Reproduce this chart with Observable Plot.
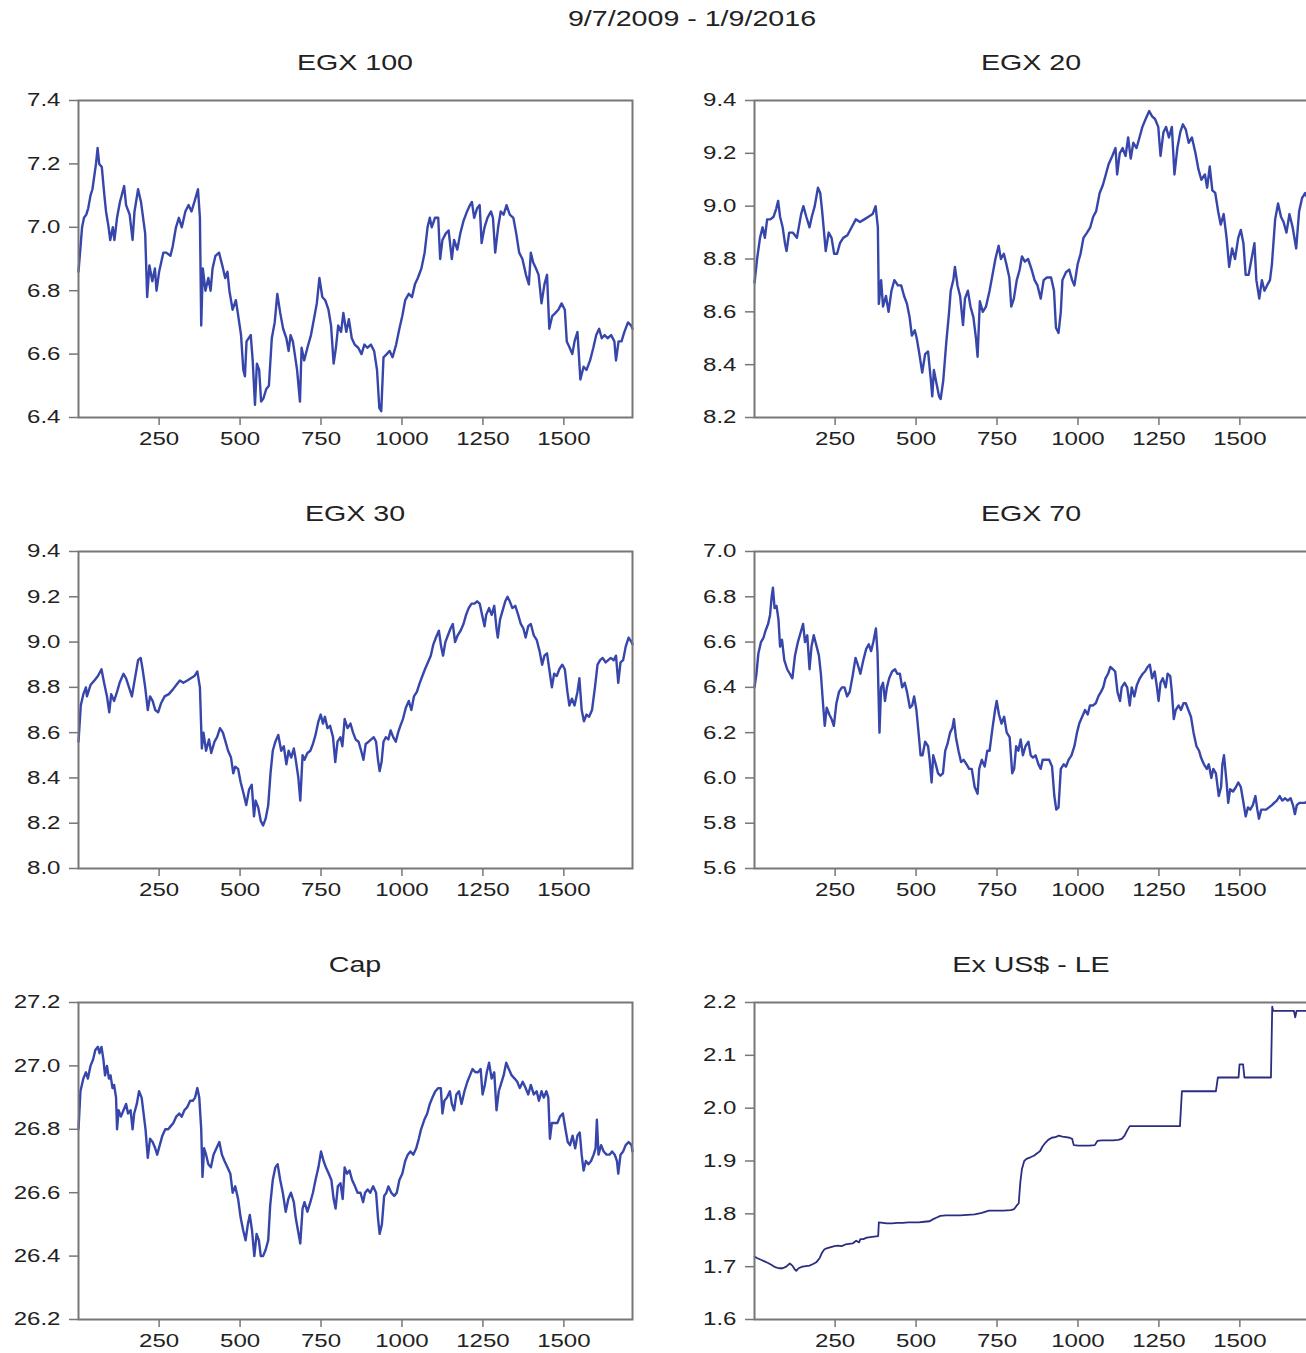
<!DOCTYPE html>
<html><head><meta charset="utf-8">
<script src="https://cdn.jsdelivr.net/npm/d3@7"></script>
<script src="https://cdn.jsdelivr.net/npm/@observablehq/plot@0.6"></script>
<style>
html,body{margin:0;padding:0;background:#fff;overflow:hidden;width:1306px;height:1353px}
#root{position:relative;width:1306px;height:1353px;overflow:hidden;background:#fff}
.t{position:absolute;font-family:"Liberation Sans",Arial,sans-serif;color:#222;white-space:nowrap;line-height:1;transform:translate(-50%,-50%) scaleX(1.3)}
.p{position:absolute;width:642px;height:367px}
.p svg{max-width:none !important;width:642px;height:367px}
</style></head><body><div id="root"></div>
<script>
const mainTitle = "9/7/2009 - 1/9/2016";
const panelTitles = ["EGX 100", "EGX 20", "EGX 30", "EGX 70", "Cap", "Ex US$ - LE"];
const xTicks = [250, 500, 750, 1000, 1250, 1500];
const xDomain = [1, 1712];

const ticksEGX100 = [6.4, 6.6, 6.8, 7.0, 7.2, 7.4];
const ticksEGX20 = [8.2, 8.4, 8.6, 8.8, 9.0, 9.2, 9.4];
const ticksEGX30 = [8.0, 8.2, 8.4, 8.6, 8.8, 9.0, 9.2, 9.4];
const ticksEGX70 = [5.6, 5.8, 6.0, 6.2, 6.4, 6.6, 6.8, 7.0];
const ticksCap = [26.2, 26.4, 26.6, 26.8, 27.0, 27.2];
const ticksEx = [1.6, 1.7, 1.8, 1.9, 2.0, 2.1, 2.2];

const egx100 = [[1,6.86],[12,7.00],[18,7.03],[25,7.04],[31,7.06],[38,7.10],[44,7.12],[55,7.20],[60,7.25],[65,7.20],[73,7.19],[81,7.10],[86,7.05],[94,7.00],[99,6.96],[107,7.00],[112,6.96],[120,7.03],[129,7.08],[142,7.13],[148,7.07],[159,7.04],[168,6.96],[174,7.05],[185,7.12],[194,7.08],[207,6.98],[213,6.78],[220,6.88],[229,6.83],[237,6.87],[242,6.80],[250,6.86],[263,6.92],[272,6.92],[285,6.91],[292,6.94],[302,7.00],[311,7.03],[320,7.00],[331,7.05],[341,7.07],[350,7.05],[359,7.08],[370,7.12],[376,7.03],[380,6.69],[385,6.87],[393,6.80],[402,6.84],[409,6.80],[415,6.87],[424,6.91],[435,6.92],[445,6.88],[454,6.84],[461,6.86],[467,6.80],[477,6.74],[487,6.77],[493,6.73],[503,6.66],[510,6.55],[515,6.53],[520,6.64],[533,6.66],[539,6.58],[546,6.44],[552,6.57],[559,6.55],[565,6.45],[572,6.46],[581,6.49],[589,6.50],[598,6.65],[607,6.70],[615,6.79],[624,6.73],[633,6.68],[643,6.65],[650,6.61],[656,6.66],[663,6.64],[669,6.60],[676,6.55],[685,6.45],[690,6.62],[698,6.58],[708,6.62],[719,6.66],[728,6.71],[737,6.76],[745,6.84],[754,6.78],[763,6.77],[773,6.74],[781,6.69],[789,6.57],[796,6.62],[803,6.69],[812,6.67],[819,6.73],[828,6.67],[836,6.71],[845,6.65],[854,6.63],[865,6.62],[875,6.60],[884,6.63],[893,6.62],[904,6.63],[914,6.61],[923,6.55],[930,6.43],[936,6.42],[943,6.59],[953,6.60],[962,6.61],[971,6.59],[982,6.63],[992,6.68],[1001,6.72],[1010,6.77],[1021,6.79],[1031,6.78],[1040,6.82],[1049,6.84],[1060,6.87],[1070,6.92],[1079,7.00],[1086,7.03],[1092,7.00],[1102,7.03],[1112,7.03],[1118,6.90],[1125,6.96],[1135,6.98],[1144,6.99],[1154,6.90],[1161,6.96],[1171,6.93],[1180,6.98],[1190,7.02],[1201,7.05],[1210,7.07],[1216,7.08],[1223,7.03],[1232,7.06],[1240,7.07],[1246,6.95],[1255,7.00],[1264,7.03],[1275,7.05],[1281,7.03],[1288,6.92],[1297,7.00],[1305,7.05],[1314,7.04],[1323,7.07],[1333,7.04],[1344,7.03],[1353,6.98],[1362,6.92],[1372,6.90],[1383,6.85],[1392,6.82],[1398,6.92],[1405,6.89],[1414,6.87],[1422,6.85],[1431,6.76],[1440,6.82],[1448,6.85],[1455,6.68],[1464,6.72],[1474,6.73],[1483,6.74],[1493,6.76],[1503,6.74],[1509,6.64],[1518,6.62],[1526,6.60],[1533,6.64],[1542,6.67],[1551,6.52],[1561,6.56],[1570,6.55],[1581,6.58],[1591,6.62],[1600,6.66],[1609,6.68],[1617,6.65],[1626,6.66],[1635,6.65],[1646,6.66],[1656,6.64],[1661,6.58],[1669,6.64],[1678,6.64],[1687,6.67],[1698,6.70],[1708,6.69],[1712,6.68]];

const egx20 = [[1,8.71],[9,8.80],[18,8.88],[26,8.92],[33,8.88],[40,8.95],[50,8.95],[60,8.96],[68,8.99],[74,9.02],[80,8.96],[88,8.92],[95,8.86],[100,8.83],[108,8.90],[119,8.90],[132,8.88],[145,8.97],[152,9.00],[161,8.96],[171,8.92],[178,8.96],[187,9.00],[197,9.07],[204,9.05],[210,8.98],[221,8.83],[230,8.90],[239,8.88],[247,8.82],[256,8.82],[265,8.86],[275,8.88],[288,8.89],[301,8.92],[314,8.95],[327,8.94],[340,8.95],[353,8.96],[366,8.97],[375,9.00],[382,8.92],[385,8.63],[392,8.72],[398,8.62],[407,8.66],[415,8.60],[424,8.68],[433,8.72],[444,8.70],[454,8.70],[463,8.66],[472,8.63],[480,8.58],[487,8.51],[496,8.53],[502,8.50],[509,8.45],[519,8.37],[528,8.44],[537,8.45],[545,8.35],[550,8.28],[555,8.38],[563,8.33],[571,8.28],[576,8.27],[584,8.34],[593,8.48],[602,8.60],[607,8.68],[615,8.72],[620,8.77],[628,8.70],[636,8.66],[645,8.55],[651,8.65],[660,8.68],[668,8.62],[677,8.58],[685,8.50],[690,8.43],[697,8.64],[706,8.60],[716,8.62],[727,8.68],[736,8.74],[745,8.80],[755,8.85],[762,8.80],[771,8.82],[779,8.78],[788,8.73],[794,8.62],[802,8.65],[811,8.72],[820,8.76],[827,8.81],[836,8.79],[846,8.80],[857,8.76],[866,8.72],[875,8.70],[885,8.65],[894,8.72],[904,8.73],[917,8.73],[926,8.68],[932,8.54],[940,8.52],[947,8.60],[952,8.72],[963,8.75],[973,8.76],[982,8.72],[989,8.70],[999,8.78],[1008,8.82],[1017,8.88],[1028,8.90],[1038,8.92],[1047,8.96],[1056,8.98],[1067,9.05],[1077,9.08],[1086,9.12],[1095,9.16],[1106,9.19],[1116,9.22],[1121,9.12],[1129,9.20],[1138,9.22],[1147,9.19],[1155,9.26],[1163,9.18],[1171,9.24],[1181,9.22],[1190,9.26],[1199,9.30],[1209,9.33],[1220,9.36],[1229,9.34],[1238,9.33],[1248,9.30],[1255,9.19],[1264,9.28],[1272,9.30],[1281,9.26],[1290,9.30],[1298,9.12],[1307,9.22],[1316,9.28],[1324,9.31],[1333,9.29],[1342,9.24],[1352,9.26],[1363,9.20],[1372,9.14],[1381,9.10],[1392,9.12],[1399,9.07],[1407,9.15],[1415,9.06],[1424,9.05],[1433,8.98],[1441,8.93],[1450,8.97],[1459,8.88],[1467,8.77],[1476,8.84],[1485,8.80],[1495,8.88],[1503,8.91],[1511,8.86],[1518,8.74],[1527,8.74],[1536,8.80],[1545,8.86],[1551,8.72],[1560,8.65],[1568,8.72],[1576,8.68],[1584,8.70],[1593,8.72],[1599,8.78],[1609,8.95],[1618,9.01],[1627,8.96],[1635,8.94],[1644,8.90],[1653,8.97],[1663,8.92],[1674,8.84],[1683,8.98],[1692,9.03],[1702,9.05],[1712,9.02]];

const egx30 = [[1,8.56],[8,8.72],[16,8.77],[24,8.80],[27,8.76],[38,8.81],[50,8.83],[61,8.85],[72,8.88],[80,8.82],[89,8.76],[96,8.69],[102,8.77],[111,8.74],[120,8.78],[128,8.82],[140,8.86],[148,8.84],[157,8.80],[166,8.76],[173,8.82],[185,8.92],[193,8.93],[199,8.88],[207,8.80],[215,8.70],[222,8.76],[230,8.74],[238,8.70],[247,8.69],[256,8.73],[267,8.76],[280,8.77],[292,8.79],[303,8.81],[314,8.83],[325,8.82],[337,8.83],[348,8.84],[359,8.85],[368,8.87],[376,8.80],[382,8.53],[387,8.60],[395,8.52],[404,8.57],[411,8.51],[421,8.56],[429,8.58],[438,8.62],[447,8.60],[455,8.56],[463,8.52],[472,8.49],[479,8.42],[485,8.45],[494,8.44],[502,8.38],[511,8.33],[519,8.28],[528,8.35],[536,8.37],[543,8.23],[548,8.30],[556,8.27],[564,8.21],[571,8.19],[579,8.22],[587,8.28],[594,8.42],[601,8.52],[609,8.56],[618,8.59],[627,8.52],[635,8.54],[643,8.46],[650,8.52],[658,8.49],[666,8.53],[672,8.48],[680,8.40],[686,8.30],[693,8.50],[699,8.48],[708,8.51],[717,8.52],[725,8.55],[733,8.59],[742,8.65],[749,8.68],[756,8.64],[762,8.67],[770,8.62],[778,8.63],[787,8.58],[794,8.47],[801,8.56],[810,8.58],[816,8.54],[823,8.66],[832,8.62],[841,8.64],[849,8.60],[857,8.57],[866,8.56],[874,8.52],[881,8.48],[888,8.55],[897,8.56],[905,8.57],[913,8.58],[920,8.56],[926,8.48],[931,8.43],[937,8.47],[943,8.56],[950,8.58],[958,8.57],[965,8.61],[973,8.58],[981,8.56],[988,8.60],[995,8.63],[1003,8.66],[1012,8.71],[1021,8.74],[1029,8.70],[1037,8.76],[1046,8.78],[1055,8.82],[1063,8.85],[1071,8.88],[1080,8.91],[1089,8.94],[1097,8.99],[1105,9.02],[1114,9.05],[1121,8.98],[1127,8.94],[1134,9.00],[1142,9.03],[1150,9.06],[1157,9.08],[1164,9.00],[1172,9.03],[1181,9.05],[1190,9.08],[1198,9.12],[1206,9.15],[1215,9.17],[1224,9.17],[1232,9.18],[1240,9.17],[1249,9.11],[1255,9.07],[1260,9.12],[1269,9.15],[1277,9.12],[1285,9.16],[1292,9.06],[1296,9.02],[1303,9.10],[1311,9.14],[1319,9.18],[1326,9.20],[1333,9.18],[1341,9.15],[1350,9.16],[1359,9.12],[1367,9.08],[1375,9.06],[1382,9.02],[1390,9.07],[1398,9.08],[1407,9.03],[1416,9.01],[1425,8.96],[1433,8.90],[1440,8.94],[1448,8.95],[1456,8.87],[1463,8.80],[1470,8.86],[1478,8.85],[1486,8.88],[1495,8.90],[1503,8.88],[1511,8.78],[1517,8.72],[1525,8.75],[1533,8.72],[1542,8.78],[1548,8.84],[1555,8.70],[1562,8.65],[1570,8.68],[1578,8.67],[1587,8.70],[1596,8.80],[1604,8.90],[1612,8.92],[1620,8.93],[1629,8.91],[1637,8.92],[1645,8.93],[1654,8.92],[1661,8.94],[1668,8.82],[1675,8.91],[1683,8.92],[1691,8.98],[1700,9.02],[1709,9.00],[1712,8.99]];

const egx70 = [[1,6.40],[7,6.46],[13,6.55],[21,6.60],[29,6.62],[35,6.65],[43,6.68],[49,6.72],[54,6.80],[58,6.84],[63,6.75],[69,6.76],[75,6.70],[80,6.58],[86,6.61],[93,6.52],[102,6.48],[110,6.46],[118,6.44],[126,6.54],[135,6.60],[143,6.64],[151,6.68],[157,6.60],[164,6.63],[171,6.48],[177,6.58],[184,6.63],[193,6.58],[200,6.54],[206,6.46],[213,6.32],[218,6.23],[224,6.31],[232,6.28],[239,6.26],[246,6.23],[254,6.33],[262,6.38],[271,6.40],[279,6.40],[287,6.36],[295,6.38],[304,6.45],[313,6.53],[320,6.50],[328,6.46],[337,6.52],[346,6.57],[354,6.59],[361,6.56],[368,6.60],[376,6.66],[381,6.55],[387,6.20],[392,6.40],[398,6.42],[404,6.34],[410,6.40],[417,6.44],[426,6.47],[435,6.48],[442,6.46],[450,6.46],[457,6.40],[465,6.42],[472,6.38],[481,6.31],[488,6.32],[494,6.36],[501,6.30],[509,6.18],[514,6.10],[520,6.10],[528,6.16],[537,6.14],[542,6.08],[548,5.98],[553,6.10],[559,6.07],[568,6.02],[575,6.01],[583,6.02],[590,6.12],[597,6.15],[605,6.20],[612,6.22],[617,6.26],[623,6.18],[631,6.12],[639,6.07],[647,6.08],[656,6.06],[664,6.04],[672,6.04],[681,5.96],[690,5.93],[695,6.04],[703,6.08],[712,6.05],[720,6.12],[727,6.12],[736,6.22],[744,6.30],[749,6.34],[756,6.28],[764,6.24],[772,6.27],[780,6.20],[789,6.18],[797,6.02],[803,6.04],[809,6.14],[816,6.12],[823,6.17],[830,6.10],[838,6.14],[847,6.16],[854,6.10],[861,6.09],[869,6.10],[878,6.06],[885,6.04],[891,6.08],[900,6.08],[911,6.08],[920,6.05],[927,5.92],[933,5.86],[940,5.87],[947,6.04],[956,6.06],[963,6.05],[971,6.08],[980,6.10],[989,6.14],[997,6.20],[1004,6.24],[1013,6.27],[1022,6.30],[1030,6.28],[1037,6.32],[1046,6.32],[1055,6.33],[1063,6.36],[1071,6.38],[1078,6.40],[1085,6.44],[1093,6.46],[1100,6.49],[1108,6.48],[1115,6.47],[1122,6.38],[1130,6.34],[1135,6.40],[1144,6.42],[1152,6.40],[1160,6.32],[1166,6.40],[1174,6.36],[1182,6.41],[1191,6.44],[1200,6.46],[1207,6.47],[1215,6.49],[1222,6.50],[1229,6.44],[1237,6.47],[1244,6.40],[1249,6.34],[1255,6.42],[1262,6.44],[1271,6.40],[1277,6.46],[1285,6.45],[1290,6.38],[1296,6.26],[1302,6.30],[1311,6.32],[1318,6.30],[1326,6.33],[1333,6.33],[1341,6.30],[1349,6.27],[1357,6.20],[1366,6.14],[1374,6.12],[1380,6.09],[1389,6.06],[1398,6.04],[1404,6.06],[1412,6.00],[1418,6.04],[1426,6.02],[1435,5.92],[1442,5.96],[1446,6.06],[1451,6.10],[1459,5.98],[1464,5.89],[1470,5.95],[1479,5.94],[1488,5.96],[1495,5.98],[1503,5.96],[1510,5.90],[1518,5.83],[1525,5.87],[1532,5.86],[1540,5.88],[1548,5.92],[1554,5.86],[1559,5.82],[1566,5.86],[1573,5.86],[1581,5.86],[1590,5.87],[1599,5.88],[1606,5.89],[1614,5.90],[1623,5.92],[1631,5.90],[1640,5.91],[1648,5.90],[1657,5.91],[1664,5.88],[1670,5.84],[1676,5.88],[1684,5.89],[1692,5.89],[1701,5.89],[1712,5.90]];

const cap = [[1,26.80],[7,26.92],[16,26.96],[24,26.98],[30,26.96],[38,27.00],[46,27.02],[53,27.05],[61,27.06],[66,27.04],[72,27.06],[78,27.02],[83,26.97],[89,27.00],[95,26.96],[100,26.97],[106,26.93],[111,26.94],[117,26.90],[120,26.80],[125,26.86],[132,26.84],[140,26.86],[148,26.88],[154,26.85],[162,26.86],[168,26.80],[173,26.85],[181,26.88],[188,26.92],[196,26.90],[202,26.85],[208,26.80],[215,26.71],[222,26.77],[230,26.76],[238,26.74],[244,26.72],[252,26.75],[260,26.78],[269,26.80],[278,26.80],[286,26.81],[294,26.82],[303,26.84],[312,26.85],[320,26.84],[328,26.86],[337,26.87],[346,26.89],[354,26.89],[361,26.90],[368,26.93],[374,26.90],[380,26.80],[384,26.65],[389,26.74],[395,26.72],[402,26.69],[410,26.68],[418,26.72],[427,26.74],[436,26.76],[444,26.72],[452,26.70],[461,26.68],[470,26.66],[477,26.60],[485,26.62],[494,26.58],[502,26.52],[510,26.48],[517,26.45],[524,26.50],[530,26.53],[537,26.48],[544,26.40],[551,26.47],[558,26.45],[564,26.40],[571,26.40],[579,26.42],[587,26.45],[593,26.56],[601,26.64],[609,26.68],[616,26.69],[624,26.64],[632,26.60],[641,26.54],[649,26.58],[657,26.60],[666,26.57],[672,26.52],[679,26.48],[686,26.44],[693,26.55],[699,26.57],[708,26.54],[717,26.57],[725,26.60],[733,26.64],[742,26.68],[750,26.73],[758,26.70],[765,26.68],[774,26.66],[782,26.64],[789,26.58],[795,26.55],[802,26.62],[810,26.63],[817,26.58],[823,26.68],[830,26.66],[838,26.67],[846,26.64],[855,26.62],[863,26.60],[872,26.60],[880,26.57],[886,26.60],[894,26.61],[902,26.60],[911,26.62],[920,26.60],[926,26.52],[931,26.47],[938,26.50],[945,26.59],[952,26.60],[958,26.62],[967,26.60],[976,26.59],[984,26.60],[992,26.64],[1001,26.66],[1010,26.70],[1018,26.72],[1026,26.73],[1035,26.72],[1044,26.74],[1052,26.77],[1059,26.80],[1069,26.83],[1078,26.85],[1086,26.88],[1094,26.90],[1103,26.92],[1112,26.93],[1120,26.93],[1125,26.85],[1131,26.89],[1139,26.90],[1148,26.92],[1154,26.88],[1161,26.86],[1168,26.91],[1176,26.92],[1184,26.88],[1193,26.92],[1202,26.95],[1210,26.97],[1218,26.99],[1227,26.98],[1235,26.98],[1243,26.99],[1249,26.91],[1256,26.94],[1262,26.98],[1269,27.01],[1277,26.96],[1285,26.98],[1292,26.86],[1299,26.92],[1305,26.94],[1314,26.97],[1322,27.01],[1330,26.99],[1339,26.97],[1348,26.96],[1356,26.95],[1364,26.93],[1373,26.95],[1382,26.93],[1390,26.91],[1398,26.94],[1407,26.91],[1416,26.92],[1423,26.89],[1431,26.92],[1438,26.90],[1446,26.92],[1452,26.90],[1457,26.77],[1463,26.82],[1472,26.82],[1480,26.82],[1488,26.84],[1497,26.85],[1505,26.80],[1512,26.76],[1519,26.75],[1527,26.78],[1535,26.74],[1542,26.78],[1549,26.79],[1555,26.72],[1561,26.67],[1568,26.70],[1576,26.69],[1584,26.70],[1592,26.72],[1598,26.74],[1602,26.83],[1607,26.72],[1615,26.75],[1623,26.73],[1632,26.72],[1641,26.72],[1649,26.73],[1657,26.72],[1664,26.70],[1668,26.66],[1675,26.72],[1683,26.73],[1691,26.75],[1700,26.76],[1709,26.75],[1712,26.73]];

const exUsdLe = [[1,1.719],[10,1.716],[21,1.713],[32,1.710],[43,1.707],[54,1.703],[65,1.699],[76,1.697],[88,1.697],[99,1.700],[110,1.706],[118,1.702],[124,1.696],[130,1.692],[137,1.697],[149,1.700],[160,1.701],[171,1.702],[182,1.705],[193,1.709],[202,1.716],[210,1.727],[217,1.733],[226,1.735],[237,1.737],[248,1.739],[259,1.740],[270,1.739],[282,1.742],[293,1.743],[304,1.744],[315,1.749],[324,1.746],[328,1.752],[337,1.752],[348,1.755],[359,1.756],[370,1.757],[383,1.758],[385,1.784],[398,1.783],[409,1.782],[426,1.782],[442,1.783],[459,1.783],[476,1.784],[492,1.784],[509,1.784],[525,1.785],[542,1.786],[553,1.790],[564,1.793],[575,1.796],[592,1.797],[614,1.797],[636,1.797],[659,1.798],[681,1.799],[703,1.802],[725,1.806],[747,1.806],[769,1.806],[792,1.807],[803,1.809],[810,1.815],[817,1.820],[822,1.860],[827,1.885],[834,1.900],[841,1.904],[853,1.907],[864,1.910],[875,1.915],[883,1.919],[891,1.928],[900,1.935],[908,1.940],[919,1.944],[930,1.945],[941,1.948],[952,1.946],[963,1.945],[974,1.944],[982,1.942],[987,1.930],[1002,1.929],[1019,1.929],[1035,1.929],[1052,1.930],[1060,1.938],[1074,1.939],[1091,1.939],[1108,1.939],[1124,1.940],[1135,1.942],[1144,1.948],[1152,1.958],[1160,1.966],[1180,1.966],[1202,1.966],[1224,1.966],[1246,1.966],[1268,1.966],[1290,1.966],[1315,1.966],[1321,2.032],[1346,2.032],[1368,2.032],[1390,2.032],[1426,2.032],[1432,2.058],[1457,2.058],[1484,2.058],[1496,2.058],[1499,2.083],[1510,2.083],[1514,2.058],[1545,2.058],[1573,2.058],[1596,2.058],[1600,2.192],[1603,2.184],[1634,2.184],[1667,2.184],[1671,2.172],[1675,2.184],[1712,2.184]];

const panels = [
  {title: panelTitles[0], data: egx100, ticks: ticksEGX100, col: 0, row: 0, color: "#3646aa", sw: 2.4},
  {title: panelTitles[1], data: egx20, ticks: ticksEGX20, col: 1, row: 0, color: "#3646aa", sw: 2.4},
  {title: panelTitles[2], data: egx30, ticks: ticksEGX30, col: 0, row: 1, color: "#3646aa", sw: 2.4},
  {title: panelTitles[3], data: egx70, ticks: ticksEGX70, col: 1, row: 1, color: "#3646aa", sw: 2.4},
  {title: panelTitles[4], data: cap, ticks: ticksCap, col: 0, row: 2, color: "#3646aa", sw: 2.4},
  {title: panelTitles[5], data: exUsdLe, ticks: ticksEx, col: 1, row: 2, color: "#2a2d80", sw: 1.8}
];

const root = document.getElementById("root");
const STRETCH = 1.3;
const W = 642, H = 367, ML = 78, MR = 10, MT = 10, MB = 40;
const colLeft = [0, 676];
const frameTops = [100, 551, 1002];

function addText(txt, cx, cy, size) {
  const d = document.createElement("div");
  d.className = "t";
  d.textContent = txt;
  d.style.left = cx + "px";
  d.style.top = cy + "px";
  d.style.fontSize = size + "px";
  root.appendChild(d);
}

function stretchText(svg, k) {
  svg.querySelectorAll("text").forEach(t => {
    const tr = t.getAttribute("transform");
    if (tr) {
      t.setAttribute("transform", tr + ` scale(${k},1)`);
    } else {
      const x = parseFloat(t.getAttribute("x") || "0");
      t.setAttribute("x", x / k);
      t.setAttribute("transform", `scale(${k},1)`);
    }
  });
}

addText(mainTitle, 692, 19, 22);

panels.forEach(p => {
  const fmt = d3.format(".1f");
  const chart = Plot.plot({
    width: W, height: H,
    marginLeft: ML, marginRight: MR, marginTop: MT, marginBottom: MB,
    style: {fontFamily: "'Liberation Sans', Arial, sans-serif", fontSize: "18.5px", color: "#222", background: "transparent", overflow: "visible", maxWidth: "none"},
    x: {domain: xDomain},
    y: {domain: [p.ticks[0], p.ticks[p.ticks.length - 1]]},
    marks: [
      Plot.line(p.data, {x: d => d[0], y: d => d[1], stroke: p.color, strokeWidth: p.sw, strokeLinejoin: "round"}),
      Plot.axisX({ticks: xTicks, tickSize: 8, tickPadding: 6, tickFormat: d => String(d), label: null, stroke: "#777", strokeWidth: 1.5, fill: "#222"}),
      Plot.axisY({ticks: p.ticks, tickSize: 9, tickPadding: 9, tickFormat: fmt, label: null, stroke: "#777", strokeWidth: 1.5, fill: "#222"}),
      Plot.frame({stroke: "#777", strokeWidth: 2})
    ]
  });
  stretchText(chart, STRETCH);
  const holder = document.createElement("div");
  holder.className = "p";
  holder.style.left = colLeft[p.col] + "px";
  holder.style.top = (frameTops[p.row] - MT) + "px";
  holder.appendChild(chart);
  root.appendChild(holder);
  const cx = colLeft[p.col] + ML + (W - ML - MR) / 2;
  addText(p.title, cx, frameTops[p.row] - 37, 22);
});
</script></body></html>
